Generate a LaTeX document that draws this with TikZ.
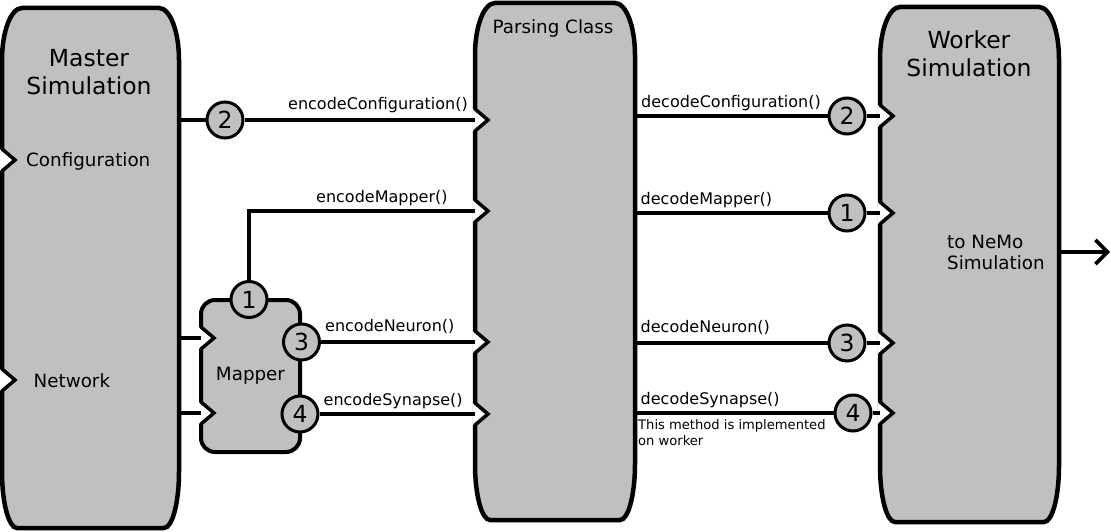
\documentclass[tikz,border=0pt]{standalone}
\usepackage{fontspec}
\setmainfont{DejaVu Sans}
\usetikzlibrary{arrows.meta}
\definecolor{simgray}{RGB}{192,192,192}

% block with tall rounded corners: left, top, right, bottom
\newcommand{\simblock}[4]{%
	\draw [blockline] (#1,#2+52) arc [start angle=180, end angle=270, x radius=20, y radius=52]
		-- (#3-20,#2) arc [start angle=270, end angle=360, x radius=20, y radius=52]
		-- (#3,#4-56) arc [start angle=0, end angle=90, x radius=15, y radius=56]
		-- (#1+15,#4) arc [start angle=90, end angle=180, x radius=15, y radius=56]
		-- cycle;}
% open port on a left edge: name, x, y
\newcommand{\inport}[3]{%
	\coordinate (#1) at (#2,#3);
	\fill [white] (#2-2.5,#3-11) -- (#2+13,#3) -- (#2-2.5,#3+11) -- cycle;
	\draw [portline] (#2,#3-11) -- (#2+13,#3) -- (#2,#3+11);}

\begin{document}
\begin{tikzpicture}[x=1pt,y=-1pt,
	blockline/.style={draw=black, fill=simgray, line width=4.5pt},
	portline/.style={line width=3.5pt},
	conn/.style={line width=3.7pt},
	mapperbox/.style={draw, fill=simgray, line width=4pt, rounded corners=14pt,
		minimum width=99pt, minimum height=152pt, inner sep=0pt, font=\fontsize{18.3}{22}\selectfont},
	num/.style={circle, draw, fill=simgray, line width=3pt, minimum size=36pt,
		inner sep=0pt, font=\fontsize{23.5}{28}\selectfont},
	title/.style={inner sep=0pt, align=center, font=\fontsize{23.5}{28}\selectfont},
	lbl/.style={inner sep=0pt, font=\fontsize{18.3}{21.5}\selectfont},
	meth/.style={inner sep=0pt, anchor=base west, font=\fontsize{16}{19}\selectfont},
	note/.style={inner sep=0pt, align=left, anchor=north west, font=\fontsize{13.1}{15.6}\selectfont}]
	\useasboundingbox (0,0) rectangle (1111,532);

	\simblock{2}{8}{179}{528}
	\simblock{475}{3}{635}{520}
	\simblock{880}{7}{1059}{522}

	\node [title, anchor=north] (master) at (89,49.2) {Master\\Simulation};
	\node [lbl, anchor=base] (parser) at (553,33.5) {Parsing Class};
	\node [title, anchor=north] (worker) at (969,30.2) {Worker\\Simulation};
	\node [lbl, anchor=base west] (config) at (26,166) {Configuration};
	\node [lbl, anchor=base west] (network) at (33.5,387.5) {Network};
	\node [lbl, align=left, anchor=north west] (nemo) at (947,234.5) {to NeMo\\Simulation};

	\node [mapperbox] (mapper) at (250.5,376) {Mapper};

	\inport{mCfg}{2}{160}
	\inport{mNet}{2}{380}
	\inport{mapN}{201}{338}
	\inport{mapS}{201}{413}
	\inport{pConf}{475}{120}
	\inport{pMap}{475}{211}
	\inport{pNeu}{475}{342}
	\inport{pSyn}{475}{414}
	\inport{wConf}{880}{116}
	\inport{wMap}{880}{213}
	\inport{wNeu}{880}{343}
	\inport{wSyn}{880}{413}

	\coordinate (mOutC) at (179,120);
	\coordinate (mOutN) at (179,338);
	\coordinate (mOutS) at (179,413);
	\coordinate (pOutC) at (635,116);
	\coordinate (pOutM) at (635,213);
	\coordinate (pOutN) at (635,343);
	\coordinate (pOutS) at (635,413);
	\coordinate (wOut) at (1059,252);
	\coordinate (nemoEnd) at (1110,252);

	\node [num] (encC) at (225,120) {2};
	\node [num] (encM) at (249,299.5) {1};
	\node [num] (encN) at (301.5,342) {3};
	\node [num] (encS) at (300,414) {4};
	\node [num] (decC) at (847,116) {2};
	\node [num] (decM) at (847,213) {1};
	\node [num] (decN) at (847,343) {3};
	\node [num] (decS) at (853,413) {4};

	\draw [conn] (mOutC) -- (encC);
	\draw [conn] (encC) -- (pConf);
	\draw [conn] (encM) |- (pMap);
	\draw [conn] (mOutN) -- (mapN);
	\draw [conn] (mOutS) -- (mapS);
	\draw [conn] (encN) -- (pNeu);
	\draw [conn] (encS) -- (pSyn);
	\draw [conn] (pOutC) -- (decC);
	\draw [conn] (decC) -- (wConf);
	\draw [conn] (pOutM) -- (decM);
	\draw [conn] (decM) -- (wMap);
	\draw [conn] (pOutN) -- (decN);
	\draw [conn] (decN) -- (wNeu);
	\draw [conn] (pOutS) -- (decS);
	\draw [conn] (decS) -- (wSyn);
	\draw [conn, -{Straight Barb[length=12pt, width=24pt]}] (wOut) -- (nemoEnd);

	\node [meth] (encCfgLbl) at (288,110) {encodeConfiguration()};
	\node [meth] (encMapLbl) at (316,202) {encodeMapper()};
	\node [meth] (encNeuLbl) at (325,331.5) {encodeNeuron()};
	\node [meth] (encSynLbl) at (323.5,405) {encodeSynapse()};
	\node [meth] (decCfgLbl) at (641,107.5) {decodeConfiguration()};
	\node [meth] (decMapLbl) at (640.5,204) {decodeMapper()};
	\node [meth] (decNeuLbl) at (640.5,332.5) {decodeNeuron()};
	\node [meth] (decSynLbl) at (640.5,404) {decodeSynapse()};
	\node [note] (workerNote) at (638,419.6) {This method is implemented\\on worker};
\end{tikzpicture}
\end{document}
